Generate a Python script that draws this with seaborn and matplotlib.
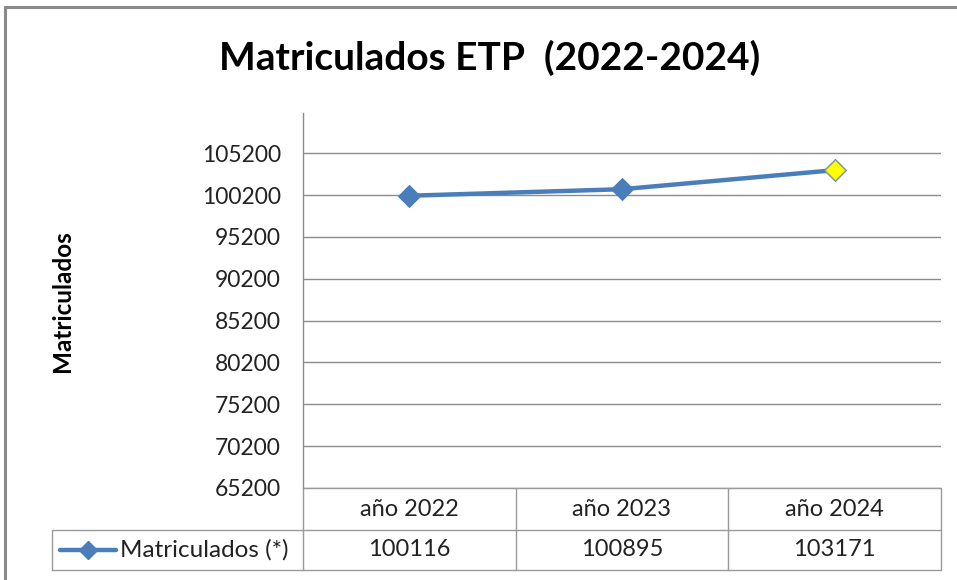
import matplotlib
matplotlib.use("Agg")
import matplotlib.pyplot as plt
from matplotlib.lines import Line2D
import matplotlib.transforms as mtransforms
import seaborn as sns
import pandas as pd

# Data
categories = ["año 2022", "año 2023", "año 2024"]
matriculados = [100116, 100895, 103171]
series_name = "Matriculados (*)"
y_ticks = [65200, 70200, 75200, 80200, 85200, 90200, 95200, 100200, 105200]

df = pd.DataFrame({"anio": categories, "valor": matriculados})
df["pos"] = range(len(df))

sns.set_style("white")
plt.rcParams["font.family"] = ["Lato", "DejaVu Sans"]

W, H = 957, 580
fig = plt.figure(figsize=(W / 100, H / 100), dpi=100)

def fx(px):
    return px / W

def fy(py):
    return 1 - py / H

# plot area in pixels
L, R, T, B = 303, 941, 113, 488
ax = fig.add_axes([fx(L), fy(B), fx(R - L), (B - T) / H])

blue = "#4A7EBB"
grid_c = "#8C8C8C"

sns.lineplot(data=df, x="pos", y="valor", ax=ax, color=blue, linewidth=3.2,
             marker="D", markersize=11, markeredgecolor=blue, zorder=3)
# last point highlighted in yellow
sns.scatterplot(data=df.tail(1), x="pos", y="valor", ax=ax, color="#FFFF00",
                marker="D", s=110, edgecolor="#A0A0A0", linewidth=0.8, zorder=4)

ax.set_xlim(-0.5, len(categories) - 0.5)
ax.set_ylim(y_ticks[0], 110000)
ax.set_yticks(y_ticks)
ax.set_yticklabels([str(v) for v in y_ticks], fontsize=16.5, color="#222222")
ax.set_xticks([])
ax.set_xlabel("")
ax.set_ylabel("")
ax.tick_params(axis="y", length=0, pad=16)
for v in y_ticks:
    ax.axhline(v, color=grid_c, linewidth=1.0, zorder=1)
for s in ["top", "right", "bottom"]:
    ax.spines[s].set_visible(False)
ax.spines["left"].set_color(grid_c)
ax.spines["left"].set_linewidth(1.0)

# title and y label
fig.text(fx(490), fy(58), "Matriculados ETP  (2022-2024)", ha="center", va="center",
         fontsize=28, fontweight="bold", color="#000000")
fig.text(fx(62), fy(301), "Matriculados", ha="center", va="center", rotation=90,
         fontsize=17.5, fontweight="bold", color="#000000")

# data table below the plot
trans = mtransforms.blended_transform_factory(ax.transData, fig.transFigure)
row1_top, row1_bot, row2_bot = 488, 530, 570
tbl_c = "#9A9A9A"

def hline(x0, x1, py):
    fig.add_artist(Line2D([fx(x0), fx(x1)], [fy(py), fy(py)], color=tbl_c, linewidth=1.0))

def vline(px, y0, y1):
    fig.add_artist(Line2D([fx(px), fx(px)], [fy(y0), fy(y1)], color=tbl_c, linewidth=1.0))

hline(L, R, row1_top)
hline(52, R, row1_bot)
hline(52, R, row2_bot)
vline(L, row1_top, row2_bot)
vline(52, row1_bot, row2_bot)
for i in range(len(categories)):
    xb = (fx(L) + fx(R - L) * (i + 1) / len(categories))
    fig.add_artist(Line2D([xb, xb], [fy(row1_top), fy(row2_bot)], color=tbl_c, linewidth=1.0))

for i, (c, v) in enumerate(zip(categories, matriculados)):
    fig.text(i, fy((row1_top + row1_bot) / 2), c, transform=trans, ha="center",
             va="center", fontsize=17, color="#222222")
    fig.text(i, fy((row1_bot + row2_bot) / 2), str(v), transform=trans, ha="center",
             va="center", fontsize=17, color="#222222")

# legend key inside the table
ymid = fy((row1_bot + row2_bot) / 2)
fig.add_artist(Line2D([fx(60), fx(116)], [ymid, ymid], color=blue, linewidth=3.2))
fig.add_artist(Line2D([fx(88)], [ymid], color=blue, marker="D", markersize=9,
                      markeredgecolor=blue))
fig.text(fx(120), ymid, series_name, ha="left", va="center", fontsize=17.5, color="#222222")

# outer chart border (top and left visible)
fig.add_artist(Line2D([fx(4.5), fx(4.5)], [fy(7), 0], color="#8A8A8A", linewidth=2.2))
fig.add_artist(Line2D([fx(4.5), 1], [fy(7), fy(7)], color="#8A8A8A", linewidth=2.2))

fig.savefig("out.png", dpi=100)
